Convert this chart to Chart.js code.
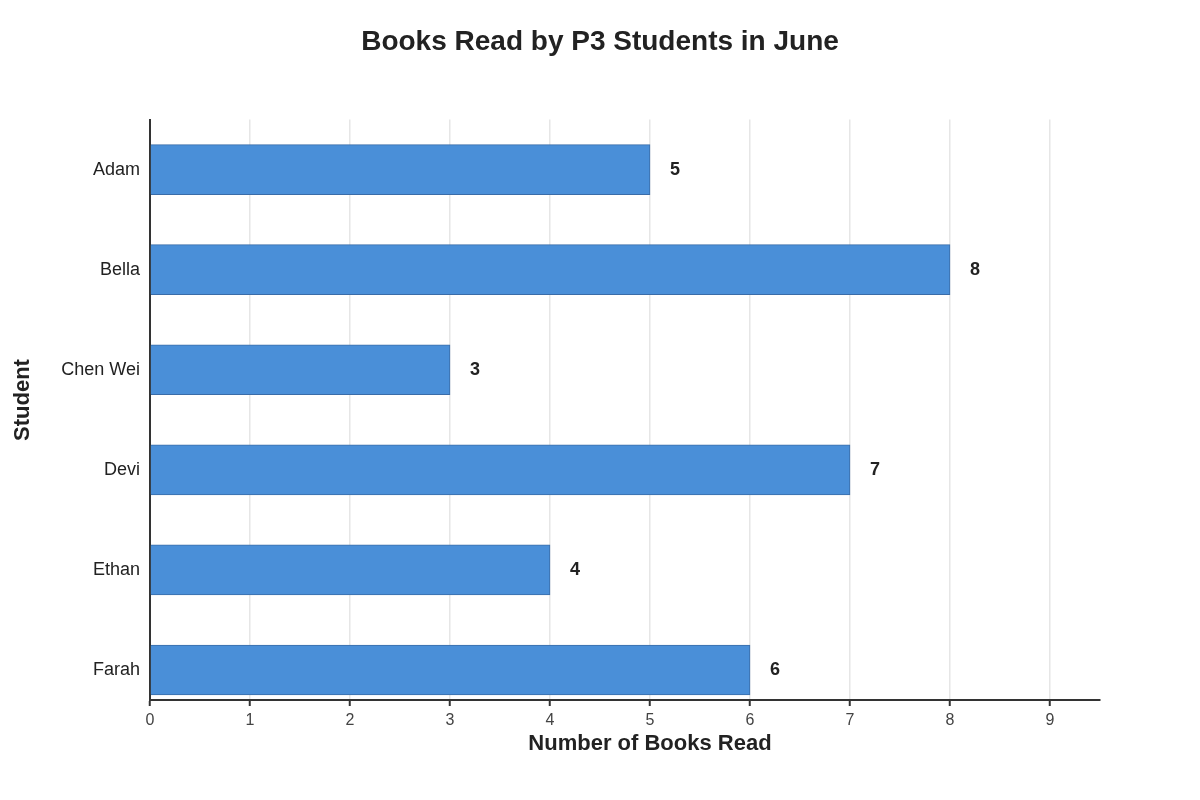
<!DOCTYPE html>
<html>
<head>
<meta charset="utf-8">
<title>Books Read by P3 Students in June</title>
<script src="https://cdn.jsdelivr.net/npm/chart.js@4.4.1/dist/chart.umd.min.js"></script>
<style>
  html, body { margin: 0; padding: 0; background: #fff; }
  #wrap { width: 1200px; height: 800px; }
</style>
</head>
<body>
<div id="wrap"><canvas id="booksChart" width="1200" height="800"></canvas></div>
<script>
const students = ['Adam', 'Bella', 'Chen Wei', 'Devi', 'Ethan', 'Farah'];
const booksRead = [5, 8, 3, 7, 4, 6];
const xTicks = [0, 1, 2, 3, 4, 5, 6, 7, 8, 9];

const xAxisTitle = 'Number of Books Read';
const yAxisTitle = 'Student';

const FONT = "'Liberation Sans', Arial, Helvetica, sans-serif";

// value labels to the right of each bar
const barValueLabels = {
    id: 'barValueLabels',
    afterDatasetsDraw(chart) {
        const ctx = chart.ctx;
        const meta = chart.getDatasetMeta(0);
        ctx.save();
        ctx.font = 'bold 18px ' + FONT;
        ctx.fillStyle = '#222';
        ctx.textAlign = 'left';
        ctx.textBaseline = 'middle';
        meta.data.forEach((bar, i) => {
            ctx.fillText(String(booksRead[i]), bar.x + 20, bar.y);
        });
        ctx.restore();
    }
};

// axis titles, placed like the original (a bit off the plot centre)
const axisTitles = {
    id: 'axisTitles',
    afterDraw(chart) {
        const ctx = chart.ctx;
        const area = chart.chartArea;
        ctx.save();
        ctx.font = 'bold 22px ' + FONT;
        ctx.fillStyle = '#222';
        ctx.textAlign = 'center';
        ctx.textBaseline = 'middle';
        ctx.fillText(xAxisTitle, (area.left + area.right) / 2 + 25, area.bottom + 44);
        ctx.translate(23, chart.height / 2);
        ctx.rotate(-Math.PI / 2);
        ctx.fillText(yAxisTitle, 0, 0);
        ctx.restore();
    }
};

new Chart(document.getElementById('booksChart').getContext('2d'), {
    type: 'bar',
    data: {
        datasets: [{
            label: 'Books Read',
            data: booksRead.map((v, i) => ({ x: v, y: i })),
            backgroundColor: '#4a8fd8',
            borderColor: '#3a6ca8',
            borderWidth: 1,
            barThickness: 50
        }]
    },
    options: {
        indexAxis: 'y',
        responsive: false,
        animation: false,
        layout: { padding: 0 },
        plugins: {
            legend: { display: false },
            tooltip: { enabled: false },
            title: {
                display: true,
                text: 'Books Read by P3 Students in June',
                color: '#222',
                font: { family: FONT, size: 28, weight: 'bold', lineHeight: 1.2 },
                padding: { top: 25, bottom: 61 }
            }
        },
        scales: {
            x: {
                type: 'linear',
                min: 0,
                max: 9.5,
                ticks: {
                    stepSize: 1,
                    color: '#444',
                    padding: 5,
                    font: { family: FONT, size: 16 }
                },
                afterBuildTicks: scale => {
                    scale.ticks = xTicks.map(v => ({ value: v }));
                },
                afterFit: scale => { scale.height = 100; },
                grid: {
                    color: '#e6e6e6',
                    lineWidth: 1.5,
                    drawTicks: true,
                    tickLength: 6,
                    tickColor: '#333',
                    tickWidth: 2
                },
                border: { display: true, color: '#333', width: 2 },
                title: { display: false }
            },
            y: {
                type: 'linear',
                min: -0.5,
                max: 5.3,
                reverse: true,
                offset: false,
                afterBuildTicks: scale => {
                    scale.ticks = students.map((s, i) => ({ value: i }));
                },
                afterFit: scale => { scale.width = 150; },
                ticks: {
                    color: '#222',
                    padding: 10,
                    font: { family: FONT, size: 18 },
                    callback: v => students[v]
                },
                grid: { display: false, drawTicks: false, offset: false },
                border: { display: true, color: '#333', width: 2 },
                title: { display: false }
            },
            // empty right-hand axis, only reserves the blank margin
            yRight: {
                type: 'linear',
                position: 'right',
                display: true,
                ticks: { display: false },
                grid: { display: false, drawTicks: false },
                border: { display: false },
                afterFit: scale => { scale.width = 100; }
            }
        }
    },
    plugins: [barValueLabels, axisTitles]
});
</script>
</body>
</html>
